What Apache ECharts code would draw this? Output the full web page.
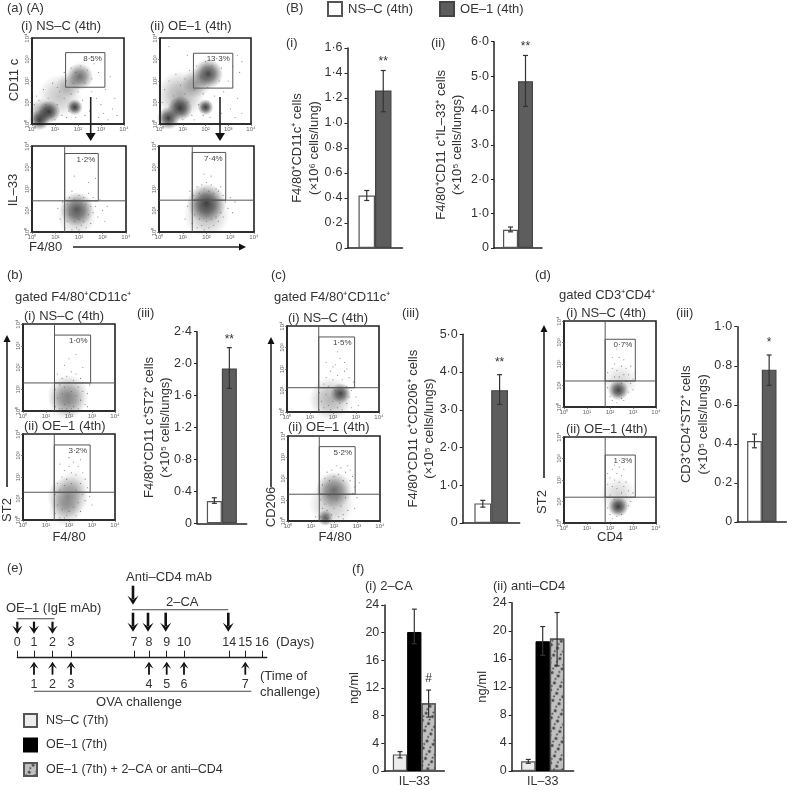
<!DOCTYPE html>
<html lang="en">
<head>
  <meta charset="UTF-8">
  <title>IL-33 figure</title>
  <script src="https://cdn.jsdelivr.net/npm/echarts@6/dist/echarts.min.js"></script>
  <style>html,body{margin:0;background:#fff}</style>
</head>
<body>
  <div id="container" style="width:788px;height:790px"></div>
  <script>
    // bar panels: mean, low and high end of the error bar, height of the significance mark
    const legend4th = ['NS–C (4th)', 'OE–1 (4th)'];
    const legend7th = ['NS–C (7th)', 'OE–1 (7th)', 'OE–1 (7th) + 2–CA or anti–CD4'];

    const bi_vals = [0.42, 1.26], bi_low = [0.38, 1.09], bi_high = [0.46, 1.42], bi_sig = [null, 1.49];
    const bii_vals = [0.53, 4.85], bii_low = [0.47, 4.12], bii_high = [0.61, 5.6], bii_sig = [null, 5.85];
    const biii_vals = [0.28, 1.94], biii_low = [0.25, 1.69], biii_high = [0.32, 2.2], biii_sig = [null, 2.3];
    const ciii_vals = [0.52, 3.52], ciii_low = [0.42, 3.14], ciii_high = [0.6, 3.93], ciii_sig = [null, 4.25];
    const diii_vals = [0.415, 0.78], diii_low = [0.38, 0.7], diii_high = [0.45, 0.855], diii_sig = [null, 0.92];
    const fi_vals = [2.4, 20.1, 9.8], fi_low = [1.9, 18.4, 7.8], fi_high = [2.8, 23.4, 11.7], fi_sig = [null, null, 13.4];
    const fii_vals = [1.4, 18.5, 18.9], fii_low = [1.1, 16.5, 15], fii_high = [1.65, 20.6, 22.6], fii_sig = [null, null, null];

    // flow cytometry gates, log10 units: vertical, horizontal, gate left, right, bottom, top, percent
    const gateA1 = [null, null, 1.46, 3.17, 1.71, 3.32, '8·5%'];
    const gateA2 = [null, null, 1.47, 3.2, 1.67, 3.29, '13·3%'];
    const gateA3 = [1.39, 1.45, 1.39, 2.82, 1.45, 3.65, '1·2%'];
    const gateA4 = [1.4, 1.48, 1.4, 2.81, 1.48, 3.7, '7·4%'];
    const gateB1 = [1.37, 1.29, 1.37, 2.94, 1.29, 3.49, '1·0%'];
    const gateB2 = [1.36, 1.29, 1.36, 2.92, 1.29, 3.49, '3·2%'];
    const gateC1 = [1.38, 1.13, 1.38, 2.94, 1.13, 3.49, '1·5%'];
    const gateC2 = [1.36, 1.26, 1.36, 2.92, 1.26, 3.5, '5·2%'];
    const gateD1 = [1.79, 1.21, 1.79, 3.1, 1.21, 3.15, '0·7%'];
    const gateD2 = [1.79, 1.2, 1.79, 3.1, 1.2, 3.16, '1·3%'];

    // dense parts of each plot: x, y, spread in decades, relative density
    const cloudA1 = [[0.33,0.19,0.9,1],[0.74,0.57,1,1],[1.86,0.78,0.7,1],[2.07,2.2,1.2,0.75],[1.2,1.3,1.9,0.3],[1.6,1.8,1.1,0.3],[0.4,0.6,1.1,0.45]];
    const cloudA2 = [[0.37,0.27,1,1],[0.88,0.73,1.1,1],[2,0.78,0.7,1],[2.12,2.33,1.3,0.95],[0.9,1.35,2.1,0.42],[1.6,1.9,1.3,0.45]];
    const cloudA3 = [[1.91,1.06,1.5,0.8],[1.9,0.7,1.7,0.3]];
    const cloudA4 = [[2,1.34,1.7,0.95],[2,0.8,2,0.35]];
    const cloudB1 = [[1.96,0.72,1.8,0.5],[1.9,0.4,1.6,0.3]];
    const cloudB2 = [[1.95,1.08,1.8,0.55],[1.85,0.5,1.5,0.3],[2.2,1.6,1.4,0.18]];
    const cloudC1 = [[2.33,0.86,0.9,0.9],[1.9,0.6,1.9,0.4]];
    const cloudC2 = [[2,1.46,1.6,0.7],[1.62,0.14,0.7,0.8],[1.9,0.8,2,0.3]];
    const cloudD1 = [[2.36,0.78,0.9,0.95],[2.45,1.2,1.5,0.2]];
    const cloudD2 = [[2.36,0.76,0.9,1],[2.35,1.3,1.6,0.22]];

    // separate events that can be made out around the dense parts
    const dotsA1 = [[0.1,0.9],[0.2,1.3],[0.5,1.6],[0.7,1.2],[0.9,1.9],[1,0.2],[1.1,0.9],[1.2,1.5],[1.3,0.4],[1.4,1.2],[1.5,2],[1.6,0.6],[1.7,1.4],[1.8,1.9],[1.9,2.4],[2,1.5],[2.1,2.7],[2.2,1.1],[2.3,1.9],[2.4,2.5],[2.5,0.6],[2.6,2.1],[2.7,2.8],[2.8,1.2],[2.9,2.4],[3,0.9],[3.1,0.5],[3.2,1.6],[3.4,2.2],[3.5,0.7],[3.6,1.2],[1.4,2.4],[1.7,2.6],[0.8,0.4],[0.6,0.9],[1.9,0.3],[2.3,0.4],[2.6,1.5],[2.9,0.3],[3.3,0.2],[3.7,0.4],[1.1,1.7],[0.3,1.1],[1.5,0.3]];
    const dotsA2 = [[0.1,1],[0.2,1.6],[0.4,2],[0.6,1.3],[0.7,2.3],[0.9,1.8],[1,0.2],[1.1,2.1],[1.2,1],[1.3,2.5],[1.4,0.4],[1.5,1.6],[1.6,2.7],[1.7,0.9],[1.8,2.2],[1.9,1.4],[2,2.9],[2.1,1.7],[2.3,2.7],[2.4,1.3],[2.6,2],[2.7,2.6],[2.8,1.5],[3,2],[3.1,0.7],[3.2,2.7],[3.4,1.2],[3.5,2.4],[3.6,0.5],[0.4,3.6],[0.5,0.8],[1.2,3.2],[2.2,0.3],[2.7,0.5],[3.3,0.3],[1.5,0.2],[0.8,1.1],[3.4,3.2],[3.6,2.9],[1.1,1.4],[1.9,0.4]];
    const dotsA3 = [[1.4,0.2],[1.5,1.3],[1.5,0.5],[1.6,1.6],[1.6,0.8],[1.7,0.1],[1.7,1.9],[1.8,0.5],[1.8,1.5],[1.9,0.2],[2,0.6],[2,1.7],[2.1,0.3],[2.2,1.6],[2.2,0.5],[2.3,1.3],[2.3,0.2],[2.4,1.8],[2.4,0.8],[2.5,1.2],[2.5,0.4],[2.6,1.6],[2.6,0.9],[2.7,1.2],[2.8,0.7],[2.9,1.5],[3,1],[1.2,0.6],[1.1,1.1],[2.7,2.5],[1.8,2.6],[2.4,2.3],[3.1,0.5],[1.3,1.4],[2,0.1],[3.2,1.2]];
    const dotsA4 = [[1.4,0.4],[1.45,1.7],[1.5,0.8],[1.6,2.1],[1.6,0.2],[1.7,1.8],[1.7,0.6],[1.8,2.2],[1.8,0.3],[1.9,2],[1.9,0.1],[2,2.3],[2,0.5],[2.1,1.9],[2.1,0.2],[2.2,2.2],[2.2,0.6],[2.3,1.8],[2.3,0.3],[2.4,2],[2.4,0.7],[2.5,1.9],[2.5,0.5],[2.6,2.1],[2.6,0.9],[2.7,1.7],[2.7,0.7],[2.8,1.4],[2.9,1.1],[3,1.6],[3.1,0.9],[1.2,1.2],[1.1,0.6],[1.3,1.9],[3.2,1.4],[2.2,2.6],[1.9,2.7]];
    const dotsB1 = [[1.4,0.2],[1.4,1],[1.5,0.6],[1.6,1.2],[1.6,0.1],[1.7,0.8],[1.7,1.5],[1.8,0.3],[1.8,1.1],[1.9,1.6],[1.9,0.1],[2,1.3],[2,0.4],[2.1,1.8],[2.1,0.9],[2.2,0.2],[2.2,1.4],[2.3,0.7],[2.3,1.7],[2.4,1.1],[2.4,0.1],[2.5,1.5],[2.5,0.5],[2.6,0.9],[2.6,1.3],[2.7,0.3],[2.8,0.8],[2.9,1.2],[1.5,1.7],[1.8,2.1],[2,2.4],[2.3,2.6],[2.6,2],[1.7,0.1],[2.8,0.2],[2.1,0.1]];
    const dotsB2 = [[1.4,0.3],[1.4,1.2],[1.5,0.7],[1.5,1.7],[1.6,0.1],[1.6,1.4],[1.7,2],[1.7,0.5],[1.8,1.6],[1.8,2.3],[1.9,0.2],[1.9,1.9],[2,2.5],[2,0.4],[2.1,1.7],[2.1,2.2],[2.2,0.6],[2.2,2.7],[2.3,1.4],[2.3,2.1],[2.4,0.8],[2.4,2.5],[2.5,1.7],[2.5,0.4],[2.6,2.2],[2.6,1.2],[2.7,1.9],[2.7,0.9],[2.8,1.5],[2.9,1.1],[3,0.7],[2,2.9],[1.8,0.1],[2.3,0.2],[1.6,2.6],[2.5,2.8]];
    const dotsC1 = [[1.4,0.1],[1.4,0.9],[1.5,0.5],[1.6,1.3],[1.6,0.2],[1.7,0.8],[1.7,1.6],[1.8,0.3],[1.8,1.2],[1.9,1.9],[1.9,0.1],[2,1.5],[2,0.5],[2.1,2.2],[2.1,1],[2.2,0.2],[2.2,1.7],[2.3,2.5],[2.3,0.4],[2.4,1.5],[2.4,0.1],[2.5,1.9],[2.6,0.4],[2.6,1.2],[2.7,1.6],[2.7,0.7],[2.8,0.2],[2.8,1],[2.9,1.4],[3,0.7],[3.1,0.3],[2.5,2.3],[2,2.1],[2.6,2],[1.7,2.3],[2.2,2.8]];
    const dotsC2 = [[1.4,0.2],[1.4,1],[1.5,0.6],[1.5,1.7],[1.6,2],[1.6,0.8],[1.7,2.3],[1.7,0.5],[1.8,1.2],[1.8,1.9],[1.9,2.4],[1.9,0.3],[2,2.1],[2,0.6],[2.1,2.6],[2.1,1],[2.2,0.2],[2.2,2.2],[2.3,2.5],[2.3,0.7],[2.4,1.9],[2.4,0.3],[2.5,2.3],[2.5,1.1],[2.6,2.6],[2.6,0.5],[2.7,1.9],[2.7,2.4],[2.8,1.3],[2.8,2.1],[2.9,1.6],[2.9,0.6],[3,1.1],[3.1,1.8],[1.2,0.2],[1.7,0.1],[2.4,0.1]];
    const dotsD1 = [[1.9,0.9],[1.9,1.6],[2,0.5],[2,1.2],[2.1,1.8],[2.1,0.3],[2.2,1.4],[2.2,2],[2.2,0.7],[2.3,1.7],[2.3,0.2],[2.4,2.3],[2.4,1.4],[2.5,1.9],[2.5,0.4],[2.6,1.5],[2.6,2.2],[2.7,1.2],[2.7,1.8],[2.8,0.7],[2.8,1.5],[2.9,1.1],[2.9,1.9],[3,1.3],[3,0.8],[3.1,1.6],[2.3,2.7],[2.1,2.3],[2.5,1.1],[2.6,0.3]];
    const dotsD2 = [[1.9,0.7],[1.9,1.8],[1.9,2.3],[2,0.4],[2,1.3],[2,2.1],[2.1,1.7],[2.1,0.2],[2.1,2.5],[2.2,1.1],[2.2,2],[2.2,2.7],[2.3,1.6],[2.3,0.3],[2.3,2.3],[2.4,1.9],[2.4,2.6],[2.5,1.4],[2.5,2.2],[2.5,0.4],[2.6,1.7],[2.6,2.5],[2.7,1.2],[2.7,1.9],[2.8,0.8],[2.8,1.5],[2.9,1],[3,1.4],[1.8,1.2]];

    // schedule (e), days
    const oeDays = [0, 1, 2];
    const caDays = [7, 8, 9, 14];
    const antiDays = [7];
    const ovaDays = [1, 2, 3, 8, 9, 10, 15];
    const ovaOrder = [1, 2, 3, 4, 5, 6, 7];
    // the schedule is not drawn to scale: place of each day along the line
    const dayPlace = {0: 0, 1: 16.7, 2: 35.2, 3: 53.7, 7: 116.7, 8: 131.7, 9: 149.4, 10: 166.7, 14: 212, 15: 228, 16: 244.7};

    const INK = '#333';
    const FONT = '"Liberation Sans", Arial, sans-serif';
    const mottled = {symbol: 'circle', symbolSize: 1, color: 'rgba(40,40,40,0.8)', dashArrayX: [[4, 3], [2, 5]], dashArrayY: [3, 1], rotation: 0.5};
    const barStyles = {
      'NS–C (4th)': {color: '#fff', borderColor: '#555', borderWidth: 1.2},
      'OE–1 (4th)': {color: '#5d5d5d', borderColor: '#444', borderWidth: 1.2},
      'NS–C (7th)': {color: '#ececec', borderColor: '#555', borderWidth: 1.2},
      'OE–1 (7th)': {color: '#000', borderColor: '#000', borderWidth: 1},
      'OE–1 (7th) + 2–CA or anti–CD4': {color: '#c0c0c0', borderColor: '#555', borderWidth: 1.2, decal: mottled}
    };

    const flowPlots = [
      {box: [32, 38, 92, 86], cloud: cloudA1, dots: dotsA1, gate: gateA1},
      {box: [160, 38, 91, 86], cloud: cloudA2, dots: dotsA2, gate: gateA2},
      {box: [32, 146, 94, 86], cloud: cloudA3, dots: dotsA3, gate: gateA3},
      {box: [159, 146, 95, 86], cloud: cloudA4, dots: dotsA4, gate: gateA4},
      {box: [23, 324, 92, 87], cloud: cloudB1, dots: dotsB1, gate: gateB1},
      {box: [23, 434, 92, 86], cloud: cloudB2, dots: dotsB2, gate: gateB2},
      {box: [287, 326, 92, 86], cloud: cloudC1, dots: dotsC1, gate: gateC1},
      {box: [288, 436, 92, 85], cloud: cloudC2, dots: dotsC2, gate: gateC2},
      {box: [564, 321, 92, 86], cloud: cloudD1, dots: dotsD1, gate: gateD1},
      {box: [564, 437, 92, 86], cloud: cloudD2, dots: dotsD2, gate: gateD2}
    ];

    const barCharts = [
      {box: [347.5, 48, 55, 200], max: 1.6, step: 0.2, dec: 1, bw: 16.5, gap: 25, names: legend4th, vals: bi_vals, low: bi_low, high: bi_high, sig: bi_sig, mark: '**', title: 'F4/80⁺CD11c⁺ cells\n(×10⁶ cells/lung)'},
      {box: [494, 41.7, 48, 206.3], max: 6, step: 1, dec: 1, bw: 15, gap: 28, names: legend4th, vals: bii_vals, low: bii_low, high: bii_high, sig: bii_sig, mark: '**', title: 'F4/80⁺CD11 c⁺IL–33⁺ cells\n(×10⁵ cells/lungs)'},
      {box: [197, 331.7, 49.7, 191.6], max: 2.4, step: 0.4, dec: 1, bw: 15, gap: 23, names: legend4th, vals: biii_vals, low: biii_low, high: biii_high, sig: biii_sig, mark: '**', title: 'F4/80⁺CD11 c⁺ST2⁺ cells\n(×10⁵ cells/lungs)'},
      {box: [462.7, 334.3, 57, 188.7], max: 5, step: 1, dec: 1, bw: 16.8, gap: 25, names: legend4th, vals: ciii_vals, low: ciii_low, high: ciii_high, sig: ciii_sig, mark: '**', title: 'F4/80⁺CD11 c⁺CD206⁺ cells\n(×10⁵ cells/lungs)'},
      {box: [737.3, 326.7, 49, 195.3], max: 1, step: 0.2, dec: 1, bw: 14.7, gap: 26, names: legend4th, vals: diii_vals, low: diii_low, high: diii_high, sig: diii_sig, mark: '*', title: 'CD3⁺CD4⁺ST2⁺ cells\n(×10⁵ cells/lungs)'},
      {box: [384.3, 605, 60, 166], max: 24, step: 4, dec: 0, bw: 14.3, gap: 22, names: legend7th, vals: fi_vals, low: fi_low, high: fi_high, sig: fi_sig, mark: '#', title: 'ng/ml', cat: 'IL–33'},
      {box: [511.7, 602.7, 62, 168.3], max: 24, step: 4, dec: 0, bw: 14.4, gap: 21, names: legend7th, vals: fii_vals, low: fii_low, high: fii_high, sig: fii_sig, mark: '', title: 'ng/ml', cat: 'IL–33'}
    ];

    const grid = [], xAxis = [], yAxis = [], series = [];
    const sup = '⁰¹²³⁴';

    flowPlots.forEach(plot => {
      const i = grid.length;
      const [left, top, width, height] = plot.box;
      grid.push({left, top, width, height, show: true, borderColor: '#222', borderWidth: 1.6, backgroundColor: '#fff'});
      const logAxis = (rotate) => ({
        type: 'value', gridIndex: i, min: 0, max: 4, interval: 1, splitLine: {show: false},
        axisLine: {onZero: false, lineStyle: {color: '#222', width: 1.6}},
        axisTick: {length: 2, lineStyle: {color: '#555', width: 0.7}},
        axisLabel: {fontSize: 6, color: '#666', margin: 2, rotate, fontFamily: FONT, formatter: v => '10' + sup[v]}
      });
      xAxis.push(logAxis(0));
      yAxis.push(logAxis(90));
      series.push({
        type: 'scatter', xAxisIndex: i, yAxisIndex: i, silent: true, z: 2, data: plot.cloud,
        symbolSize: d => d[2] * 23,
        itemStyle: {
          color: p => {
            const a = p.value[3];
            return {type: 'radial', x: 0.5, y: 0.5, r: 0.5, colorStops: [
              {offset: 0, color: 'rgba(10,10,10,' + a + ')'},
              {offset: 0.45, color: 'rgba(30,30,30,' + a * 0.72 + ')'},
              {offset: 1, color: 'rgba(60,60,60,0)'}
            ]};
          }
        }
      });
      series.push({
        type: 'scatter', xAxisIndex: i, yAxisIndex: i, silent: true, z: 3, data: plot.dots,
        symbolSize: 1.1, itemStyle: {color: '#555', opacity: 0.75}
      });
      series.push({
        type: 'custom', xAxisIndex: i, yAxisIndex: i, silent: true, z: 4, data: [plot.gate],
        renderItem: (params, api) => {
          const g = plot.gate, stroke = {stroke: '#555', lineWidth: 1, fill: null};
          const kids = [];
          const seg = (a, b) => kids.push({type: 'line', shape: {x1: a[0], y1: a[1], x2: b[0], y2: b[1]}, style: stroke});
          if (g[0] !== null) seg(api.coord([g[0], 0]), api.coord([g[0], 4]));
          if (g[1] !== null) seg(api.coord([0, g[1]]), api.coord([4, g[1]]));
          const a = api.coord([g[2], g[5]]), b = api.coord([g[3], g[4]]);
          kids.push({type: 'rect', shape: {x: a[0], y: a[1], width: b[0] - a[0], height: b[1] - a[1]}, style: stroke});
          kids.push({type: 'text', style: {text: g[6], x: b[0] - 3, y: a[1] + 6, fill: '#444', font: '8px ' + FONT, textAlign: 'right', verticalAlign: 'middle'}});
          return {type: 'group', children: kids};
        }
      });
    });

    barCharts.forEach(c => {
      const i = grid.length;
      const [left, top, width, height] = c.box;
      grid.push({left, top, width, height});
      xAxis.push({
        type: 'category', gridIndex: i, data: [c.cat || ''],
        axisLine: {lineStyle: {color: '#222', width: 1.5}}, axisTick: {show: false},
        axisLabel: {show: !!c.cat, fontSize: 12.5, color: INK, margin: 4, fontFamily: FONT}
      });
      yAxis.push({
        type: 'value', gridIndex: i, min: 0, max: c.max, interval: c.step, splitLine: {show: false},
        axisLine: {show: true, lineStyle: {color: '#222', width: 1.5}},
        axisTick: {show: true, length: 3, lineStyle: {color: '#222', width: 1}},
        axisLabel: {fontSize: 12.5, color: INK, margin: 5, fontFamily: FONT,
          formatter: v => v === 0 ? '0' : v.toFixed(c.dec).replace('.', '·')},
        name: c.title, nameLocation: 'middle', nameRotate: 90, nameGap: c.gap, nameMoveOverlap: false,
        nameTextStyle: {fontSize: 13, color: INK, lineHeight: 16.5, fontFamily: FONT}
      });
      c.names.forEach((name, j) => {
        series.push({
          type: 'bar', name, xAxisIndex: i, yAxisIndex: i, barWidth: c.bw, barGap: 0, silent: true,
          data: [c.vals[j]], itemStyle: barStyles[name]
        });
      });
      series.push({
        type: 'custom', xAxisIndex: i, yAxisIndex: i, silent: true, z: 5,
        data: c.names.map((n, j) => [0, c.low[j], c.high[j], j]),
        encode: {x: 0, y: [1, 2]},
        renderItem: (params, api) => {
          const j = api.value(3);
          const shift = (j - (c.names.length - 1) / 2) * c.bw;
          const lo = api.coord([0, api.value(1)]), hi = api.coord([0, api.value(2)]);
          const x = lo[0] + shift, stroke = {stroke: '#333', lineWidth: 1.2};
          const kids = [
            {type: 'line', shape: {x1: x, y1: lo[1], x2: x, y2: hi[1]}, style: stroke},
            {type: 'line', shape: {x1: x - 2.5, y1: lo[1], x2: x + 2.5, y2: lo[1]}, style: stroke},
            {type: 'line', shape: {x1: x - 2.5, y1: hi[1], x2: x + 2.5, y2: hi[1]}, style: stroke}
          ];
          if (c.sig[j] !== null) {
            const s = api.coord([0, c.sig[j]]);
            kids.push({type: 'text', style: {text: c.mark, x, y: s[1], fill: INK, font: '12px ' + FONT, textAlign: 'center', verticalAlign: 'middle'}});
          }
          return {type: 'group', children: kids};
        }
      });
    });

    // schedule line (e), with the arrows hung from the day axis
    const schedIdx = grid.length;
    const dayMarks = Object.values(dayPlace);
    const dayName = {};
    Object.keys(dayPlace).forEach(d => { dayName[dayPlace[d]] = d; });
    grid.push({left: 17.3, top: 656.7, width: 249.4, height: 1});
    xAxis.push({
      type: 'value', gridIndex: schedIdx, min: 0, max: 249.4, splitLine: {show: false},
      axisLine: {lineStyle: {color: '#222', width: 1.4}},
      axisTick: {inside: true, length: 7, customValues: dayMarks, lineStyle: {color: '#222', width: 1}},
      axisLabel: {inside: true, margin: 9, customValues: dayMarks, fontSize: 12.5, color: INK, fontFamily: FONT, formatter: v => dayName[v]}
    });
    yAxis.push({type: 'value', gridIndex: schedIdx, min: 0, max: 1, show: false});
    series.push({
      type: 'custom', xAxisIndex: schedIdx, yAxisIndex: schedIdx, silent: true, clip: false, data: [[0, 0]],
      renderItem: (params, api) => {
        const kids = [];
        const at = d => api.coord([dayPlace[d], 0]);
        const arrow = (x, y0, y1, lw, hw, hl) => {
          const dir = y1 > y0 ? 1 : -1;
          kids.push({type: 'line', shape: {x1: x, y1: y0, x2: x, y2: y1 - dir * hl * 0.6}, style: {stroke: '#111', lineWidth: lw}});
          kids.push({type: 'polygon', shape: {points: [[x, y1], [x - hw, y1 - dir * hl], [x, y1 - dir * hl * 0.55], [x + hw, y1 - dir * hl]]}, style: {fill: '#111'}});
        };
        const bracket = (a, b, y) => kids.push({type: 'line', shape: {x1: a, y1: y, x2: b, y2: y}, style: {stroke: '#444', lineWidth: 1.1}});
        const base = at(0)[1];
        oeDays.forEach(d => arrow(at(d)[0], base - 36, base - 24, 2.2, 5, 8));
        caDays.forEach(d => arrow(at(d)[0] - 1, base - 45, base - 26, 2.6, 5.5, 9));
        antiDays.forEach(d => arrow(at(d)[0] - 1, base - 72, base - 53, 2.6, 5.5, 9));
        ovaDays.forEach((d, k) => {
          const x = at(d)[0];
          arrow(x, base + 17, base + 4, 1.8, 4.5, 7);
          kids.push({type: 'text', style: {text: String(ovaOrder[k]), x, y: base + 27, fill: INK, font: '12.5px ' + FONT, textAlign: 'center', verticalAlign: 'middle'}});
        });
        bracket(at(0)[0], at(2)[0] + 2, base - 39);
        bracket(at(7)[0] - 2, at(14)[0] - 1, base - 48);
        bracket(at(1)[0], at(15)[0] + 6, base + 33.5);
        return {type: 'group', children: kids};
      }
    });

    // panel letters, sub titles and flow axis names
    const txt = (text, x, y, size, extra) => Object.assign({
      type: 'text', x, y, silent: true,
      style: {text, font: (size || 13) + 'px ' + FONT, fill: INK, textAlign: 'left', verticalAlign: 'middle'}
    }, extra || {});
    const up = (text, x, y, size) => {
      const t = txt(text, x, y, size, {rotation: Math.PI / 2});
      t.style.textAlign = 'center';
      return t;
    };
    const mid = (text, x, y) => {
      const t = txt(text, x, y);
      t.style.textAlign = 'center';
      return t;
    };
    const arrowLine = (x1, y1, x2, y2, hw, hl) => {
      const len = Math.hypot(x2 - x1, y2 - y1), ux = (x2 - x1) / len, uy = (y2 - y1) / len;
      const bx = x2 - ux * hl, by = y2 - uy * hl;
      return [
        {type: 'line', silent: true, z: 20, shape: {x1, y1, x2: bx, y2: by}, style: {stroke: '#222', lineWidth: 1.6}},
        {type: 'polygon', silent: true, z: 20, shape: {points: [[x2, y2], [bx - uy * hw, by + ux * hw], [bx + uy * hw, by - ux * hw]]}, style: {fill: '#111'}}
      ];
    };

    const labels = [
      txt('(a) (A)', 7, 8), txt('(i) NS–C (4th)', 21, 26), txt('(ii) OE–1 (4th)', 150, 26),
      up('CD11 c', 14, 80, 13), up('IL–33', 13, 190, 13), txt('F4/80', 29, 247),
      txt('(B)', 286, 8), txt('(i)', 286, 43), txt('(ii)', 431, 43),
      txt('(b)', 7, 275), txt('gated F4/80⁺CD11c⁺', 15, 297), txt('(i) NS–C (4th)', 24, 316), txt('(ii) OE–1 (4th)', 24, 426), txt('(iii)', 137, 313),
      up('ST2', 7, 510, 13), mid('F4/80', 69, 537),
      txt('(c)', 271, 275), txt('gated F4/80⁺CD11c⁺', 274, 297), txt('(i) NS–C (4th)', 288, 318), txt('(ii) OE–1 (4th)', 288, 427), txt('(iii)', 402, 313),
      up('CD206', 271, 507, 13), mid('F4/80', 335, 537),
      txt('(d)', 535, 275), txt('gated CD3⁺CD4⁺', 559, 295), txt('(i) NS–C (4th)', 566, 313), txt('(ii) OE–1 (4th)', 566, 429), txt('(iii)', 676, 313),
      up('ST2', 542, 502, 13), mid('CD4', 610, 537),
      txt('(e)', 7, 568), txt('Anti–CD4 mAb', 126, 577), txt('2–CA', 166, 602), txt('OE–1 (IgE mAb)', 6, 608),
      txt('(Days)', 276, 642), txt('(Time of', 260, 676), txt('challenge)', 260, 692), mid('OVA challenge', 139, 702),
      txt('(f)', 352, 569), txt('(i) 2–CA', 365, 586), txt('(ii) anti–CD4', 493, 586)
    ];
    const arrows = [
      ...arrowLine(90.7, 97, 90.7, 141, 5, 8), ...arrowLine(220, 97, 220, 141, 5, 8),
      ...arrowLine(73, 247, 246, 247, 3.5, 7),
      ...arrowLine(7, 487, 7, 335, 3.5, 7), ...arrowLine(271, 487, 271, 337, 3.5, 7), ...arrowLine(544, 478, 544, 325, 3.5, 7)
    ];

    const myChart = echarts.init(document.getElementById('container'));
    myChart.setOption({
      animation: false,
      backgroundColor: '#fff',
      textStyle: {fontFamily: FONT},
      grid, xAxis, yAxis, series,
      legend: [
        {data: legend4th, left: 327, top: 1, padding: 0, itemWidth: 14, itemHeight: 14, itemGap: 26, selectedMode: false, icon: 'rect',
          textStyle: {fontSize: 13, color: INK, padding: [0, 0, 0, 1]}},
        {data: legend7th, orient: 'vertical', left: 23, top: 713, padding: 0, itemWidth: 13, itemHeight: 13, itemGap: 9.5, selectedMode: false, icon: 'rect', align: 'left',
          textStyle: {fontSize: 12.5, color: INK, padding: [0, 0, 0, 4]}}
      ],
      graphic: {elements: labels.concat(arrows)}
    });
  </script>
</body>
</html>
